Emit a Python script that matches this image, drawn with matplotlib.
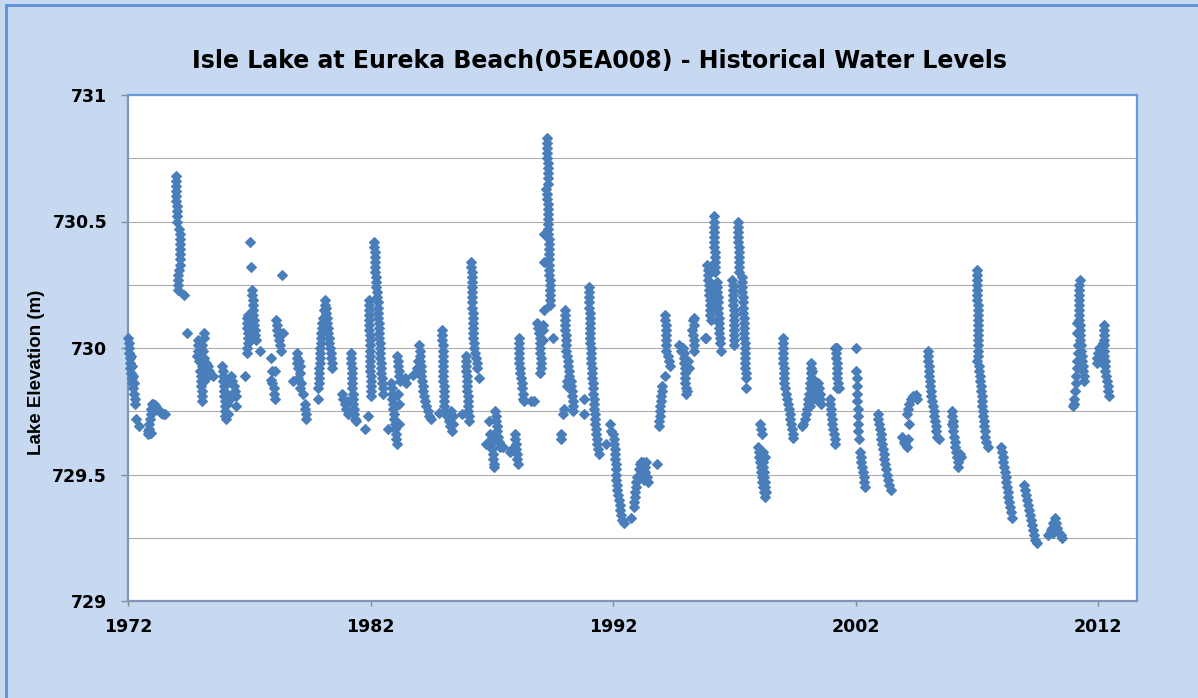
import matplotlib
matplotlib.use('Agg')
import matplotlib.pyplot as plt
from matplotlib.patches import Rectangle
from matplotlib.ticker import MultipleLocator


# water level readings (decimal year, elevation m)
obs_1970s = [
    (1972.02, 730.04), (1972.03, 730.02), (1972.04, 730.00), (1972.05, 729.98), (1972.07, 729.96),
    (1972.08, 729.94), (1972.10, 729.92), (1972.12, 729.90), (1972.15, 729.88), (1972.18, 729.86),
    (1972.21, 729.84), (1972.24, 729.82), (1972.27, 729.80), (1972.29, 729.78), (1972.12, 729.97),
    (1972.16, 729.93), (1972.20, 729.89), (1972.24, 729.86), (1972.32, 729.72), (1972.45, 729.69),
    (1972.84, 729.66), (1972.86, 729.68), (1972.88, 729.70), (1972.90, 729.72), (1972.93, 729.74),
    (1972.96, 729.76), (1973.00, 729.78), (1972.82, 729.67), (1972.90, 729.665), (1972.96, 729.665),
    (1973.05, 729.78), (1973.12, 729.775), (1973.18, 729.76), (1973.24, 729.755), (1973.30, 729.75),
    (1973.38, 729.745), (1973.46, 729.74), (1973.52, 729.74),
    (1973.97, 730.68), (1973.97, 730.66), (1973.98, 730.64), (1973.98, 730.62), (1973.99, 730.60),
    (1973.99, 730.58), (1974.00, 730.56), (1974.00, 730.54), (1974.01, 730.52), (1974.00, 730.50),
    (1974.12, 730.47), (1974.13, 730.45), (1974.14, 730.43), (1974.15, 730.41), (1974.15, 730.39),
    (1974.16, 730.37), (1974.16, 730.35), (1974.16, 730.33), (1974.10, 730.31), (1974.08, 730.29),
    (1974.06, 730.27), (1974.07, 730.25), (1974.08, 730.23), (1974.32, 730.21), (1974.44, 730.06),
    (1975.14, 730.06), (1975.12, 730.04), (1974.88, 730.03), (1974.90, 730.01), (1975.05, 730.01),
    (1974.88, 729.99), (1975.10, 729.99), (1974.85, 729.97), (1975.00, 729.97), (1975.15, 729.96),
    (1974.92, 729.95), (1975.20, 729.94), (1975.05, 729.93), (1975.30, 729.93), (1974.95, 729.91),
    (1975.22, 729.91), (1975.35, 729.91), (1975.00, 729.89), (1975.28, 729.89), (1975.49, 729.89),
    (1975.02, 729.87), (1975.15, 729.87), (1975.03, 729.85), (1975.04, 729.83), (1975.05, 729.81),
    (1975.06, 729.79),
    (1975.88, 729.93), (1975.90, 729.91), (1975.92, 729.89), (1975.93, 729.87), (1975.95, 729.85),
    (1975.96, 729.83), (1975.97, 729.81), (1975.98, 729.79), (1975.99, 729.77), (1976.00, 729.75),
    (1976.01, 729.73), (1976.02, 729.72), (1976.08, 729.78), (1976.10, 729.82), (1976.08, 729.86),
    (1976.12, 729.74), (1976.25, 729.89), (1976.30, 729.87), (1976.35, 729.85), (1976.40, 729.83),
    (1976.45, 729.81), (1976.45, 729.77), (1976.22, 729.80), (1976.82, 729.89),
    (1977.05, 730.42), (1977.09, 730.32), (1977.12, 730.23), (1977.13, 730.21), (1977.14, 730.19),
    (1977.15, 730.17), (1977.16, 730.15), (1977.17, 730.13), (1977.19, 730.11), (1977.20, 730.09),
    (1977.22, 730.07), (1977.24, 730.05), (1977.26, 730.03), (1977.44, 729.99), (1976.96, 730.13),
    (1976.90, 730.12), (1976.92, 730.10), (1976.92, 730.08), (1976.93, 730.06), (1976.94, 730.04),
    (1976.93, 730.02), (1976.92, 730.00), (1976.92, 729.98),
    (1978.33, 730.29), (1978.12, 730.11), (1978.14, 730.09), (1978.16, 730.07), (1978.18, 730.05),
    (1978.22, 730.03), (1978.26, 730.01), (1978.30, 729.99), (1978.38, 730.06), (1977.89, 729.96),
    (1977.92, 729.91), (1978.05, 729.91), (1977.90, 729.875), (1977.95, 729.86), (1978.00, 729.84),
    (1978.02, 729.82), (1978.05, 729.80),
    (1978.81, 729.87), (1978.95, 729.98), (1978.97, 729.96), (1978.95, 729.94), (1979.00, 729.92),
    (1979.05, 729.95), (1979.08, 729.93), (1979.10, 729.90), (1979.02, 729.88), (1979.15, 729.86),
    (1979.10, 729.84), (1979.20, 729.82), (1979.28, 729.78), (1979.30, 729.76), (1979.32, 729.74),
    (1979.34, 729.72), (1979.82, 729.80),
]

obs_1980s = [
    (1979.85, 729.84), (1979.86, 729.86), (1979.87, 729.88), (1979.88, 729.90), (1979.89, 729.92),
    (1979.90, 729.94), (1979.91, 729.96), (1979.92, 729.98), (1979.93, 730.00), (1979.95, 730.02),
    (1979.96, 730.04), (1979.97, 730.06), (1979.98, 730.08), (1980.00, 730.10), (1980.02, 730.12),
    (1980.10, 730.15), (1980.12, 730.17), (1980.13, 730.19), (1980.16, 730.16), (1980.18, 730.14),
    (1980.20, 730.12), (1980.22, 730.10), (1980.24, 730.08), (1980.26, 730.06), (1980.28, 730.04),
    (1980.30, 730.02), (1980.33, 730.00), (1980.36, 729.98), (1980.38, 729.96), (1980.40, 729.94),
    (1980.43, 729.92),
    (1981.20, 729.98), (1981.20, 729.96), (1981.21, 729.94), (1981.22, 729.92), (1981.22, 729.90),
    (1981.23, 729.88), (1981.24, 729.86), (1981.25, 729.84), (1981.26, 729.82), (1981.27, 729.80),
    (1981.28, 729.78), (1981.30, 729.76), (1981.32, 729.74), (1981.35, 729.72), (1981.42, 729.71),
    (1980.82, 729.82), (1980.88, 729.80), (1980.95, 729.78), (1981.00, 729.76), (1981.05, 729.74),
    (1981.08, 729.79), (1981.77, 729.68), (1981.90, 729.73),
    (1982.15, 730.42), (1982.16, 730.40), (1982.17, 730.38), (1982.18, 730.36), (1982.18, 730.34),
    (1982.19, 730.32), (1982.20, 730.30), (1982.21, 730.28), (1982.22, 730.26), (1982.24, 730.24),
    (1982.26, 730.22), (1982.28, 730.20), (1982.29, 730.18), (1982.30, 730.16), (1982.31, 730.14),
    (1982.32, 730.12), (1982.33, 730.10), (1982.34, 730.08), (1982.35, 730.06), (1982.36, 730.04),
    (1982.38, 730.02), (1982.39, 730.00), (1982.40, 729.98), (1982.41, 729.96), (1982.42, 729.94),
    (1982.44, 729.92), (1982.45, 729.90), (1982.46, 729.88), (1982.48, 729.86), (1982.50, 729.84),
    (1982.52, 729.82),
    (1981.92, 730.19), (1981.93, 730.17), (1981.93, 730.15), (1981.94, 730.13), (1981.94, 730.11),
    (1981.95, 730.09), (1981.95, 730.07), (1981.96, 730.05), (1981.96, 730.03), (1981.97, 730.01),
    (1981.97, 729.99), (1981.98, 729.97), (1981.98, 729.95), (1981.99, 729.93), (1981.99, 729.91),
    (1982.00, 729.89), (1982.00, 729.87), (1982.01, 729.85), (1982.01, 729.83), (1982.02, 729.81),
    (1983.10, 729.97), (1983.12, 729.95), (1983.14, 729.93), (1983.16, 729.91), (1983.18, 729.89),
    (1983.20, 729.87), (1983.40, 729.88), (1983.48, 729.86), (1982.85, 729.86), (1982.87, 729.84),
    (1982.88, 729.82), (1982.90, 729.80), (1982.92, 729.78), (1982.94, 729.76), (1982.96, 729.74),
    (1982.98, 729.72), (1983.00, 729.70), (1983.02, 729.68), (1983.04, 729.66), (1983.06, 729.64),
    (1983.08, 729.62), (1983.15, 729.82), (1983.18, 729.78), (1983.16, 729.70), (1982.73, 729.68),
    (1983.76, 729.895), (1984.00, 730.01), (1984.02, 729.99), (1984.03, 729.97), (1983.95, 729.95),
    (1984.05, 729.95), (1984.06, 729.93), (1983.98, 729.91), (1984.08, 729.91), (1984.10, 729.89),
    (1984.12, 729.87), (1984.15, 729.85), (1984.18, 729.83), (1984.22, 729.81), (1984.26, 729.79),
    (1984.30, 729.77), (1984.36, 729.75), (1984.42, 729.73), (1984.50, 729.72), (1983.90, 729.92),
    (1984.81, 729.745), (1984.95, 730.07), (1984.96, 730.05), (1984.96, 730.03), (1984.97, 730.01),
    (1984.97, 729.99), (1984.98, 729.97), (1984.98, 729.95), (1984.99, 729.93), (1984.99, 729.91),
    (1985.00, 729.89), (1985.00, 729.87), (1985.01, 729.85), (1985.01, 729.83), (1985.02, 729.81),
    (1985.03, 729.79), (1985.04, 729.77), (1985.08, 729.75), (1985.15, 729.73), (1985.22, 729.71),
    (1985.28, 729.69), (1985.35, 729.67), (1985.30, 729.75), (1985.38, 729.73), (1985.42, 729.70),
    (1985.79, 729.74), (1985.92, 729.97), (1985.93, 729.95), (1985.94, 729.93), (1985.95, 729.91),
    (1985.96, 729.89), (1985.97, 729.87), (1985.98, 729.85), (1985.99, 729.83), (1986.00, 729.81),
    (1986.01, 729.79), (1986.02, 729.77), (1986.03, 729.75), (1986.04, 729.73), (1986.05, 729.71),
    (1986.16, 730.34), (1986.16, 730.32), (1986.17, 730.30), (1986.17, 730.28), (1986.18, 730.26),
    (1986.18, 730.24), (1986.19, 730.22), (1986.19, 730.20), (1986.20, 730.18), (1986.20, 730.16),
    (1986.21, 730.14), (1986.21, 730.12), (1986.22, 730.10), (1986.22, 730.08), (1986.23, 730.06),
    (1986.24, 730.04), (1986.25, 730.02), (1986.28, 730.00), (1986.31, 729.98), (1986.34, 729.96),
    (1986.37, 729.94), (1986.40, 729.92), (1986.48, 729.88),
    (1986.75, 729.62), (1986.89, 729.71), (1986.92, 729.66), (1986.95, 729.64), (1986.97, 729.62),
    (1987.00, 729.60), (1987.03, 729.58), (1987.06, 729.56), (1987.08, 729.54), (1987.10, 729.53),
    (1987.15, 729.75), (1987.17, 729.73), (1987.19, 729.71), (1987.21, 729.69), (1987.23, 729.67),
    (1987.25, 729.65), (1987.28, 729.63), (1987.32, 729.61), (1987.46, 729.61),
    (1987.74, 729.59), (1987.85, 729.60), (1987.95, 729.66), (1987.97, 729.64), (1987.99, 729.62),
    (1988.01, 729.60), (1988.03, 729.58), (1988.05, 729.56), (1988.07, 729.54),
    (1988.10, 730.04), (1988.11, 730.02), (1988.12, 730.00), (1988.14, 729.98), (1988.12, 729.96),
    (1988.14, 729.94), (1988.16, 729.92), (1988.18, 729.90), (1988.20, 729.88), (1988.23, 729.86),
    (1988.25, 729.84), (1988.27, 729.82), (1988.29, 729.80), (1988.32, 729.79), (1988.60, 729.79),
    (1988.72, 729.79),
    (1989.28, 730.83), (1989.28, 730.81), (1989.29, 730.79), (1989.29, 730.77), (1989.29, 730.75),
    (1989.30, 730.73), (1989.30, 730.71), (1989.30, 730.69), (1989.31, 730.67), (1989.31, 730.65),
    (1989.25, 730.63), (1989.27, 730.61), (1989.28, 730.59), (1989.30, 730.57), (1989.32, 730.55),
    (1989.31, 730.53), (1989.32, 730.51), (1989.33, 730.49), (1989.32, 730.47), (1989.33, 730.45),
    (1989.14, 730.45), (1989.35, 730.43), (1989.35, 730.41), (1989.36, 730.39), (1989.36, 730.37),
    (1989.36, 730.35), (1989.14, 730.34), (1989.37, 730.33), (1989.37, 730.31), (1989.37, 730.29),
    (1989.38, 730.27), (1989.38, 730.25), (1989.38, 730.23), (1989.39, 730.21), (1989.39, 730.19),
    (1989.40, 730.17), (1989.15, 730.15), (1989.52, 730.04),
    (1988.88, 730.10), (1988.92, 730.08), (1988.95, 730.06), (1988.97, 730.04), (1988.99, 730.02),
    (1989.00, 730.00), (1989.00, 729.98), (1989.01, 729.96), (1989.02, 729.94), (1989.01, 729.92),
    (1988.99, 729.90), (1989.10, 730.09), (1989.12, 730.07), (1989.10, 730.03),
]

obs_1990s = [
    (1990.00, 730.15), (1990.01, 730.13), (1990.02, 730.11), (1990.02, 730.09), (1990.03, 730.07),
    (1990.04, 730.05), (1990.05, 730.03), (1990.06, 730.01), (1990.07, 729.99), (1990.10, 729.97),
    (1990.13, 729.95), (1990.16, 729.93), (1990.20, 729.91), (1990.17, 729.89), (1990.12, 729.87),
    (1990.08, 729.85), (1990.25, 729.87), (1990.28, 729.85), (1990.30, 729.83), (1990.32, 729.81),
    (1990.34, 729.79), (1990.35, 729.77), (1990.36, 729.75), (1989.94, 729.74), (1989.96, 729.76),
    (1989.84, 729.66), (1989.84, 729.64),
    (1991.00, 730.24), (1991.01, 730.22), (1991.01, 730.20), (1991.02, 730.18), (1991.02, 730.16),
    (1991.03, 730.14), (1991.03, 730.12), (1991.04, 730.10), (1991.05, 730.08), (1991.05, 730.06),
    (1991.06, 730.04), (1991.06, 730.02), (1991.07, 730.00), (1991.08, 729.98), (1991.08, 729.96),
    (1991.10, 729.94), (1991.12, 729.92), (1991.14, 729.90), (1991.15, 729.88), (1991.16, 729.86),
    (1991.18, 729.84), (1991.19, 729.82), (1991.20, 729.80), (1991.22, 729.78), (1991.23, 729.76),
    (1991.24, 729.74), (1991.26, 729.72), (1991.27, 729.70), (1991.29, 729.68), (1991.31, 729.66),
    (1991.33, 729.64), (1991.35, 729.62), (1991.38, 729.60), (1991.42, 729.58), (1991.72, 729.62),
    (1991.86, 729.70), (1991.90, 729.67), (1990.80, 729.80), (1990.80, 729.74),
    (1992.00, 729.66), (1992.02, 729.64), (1992.04, 729.62), (1992.06, 729.60), (1992.07, 729.58),
    (1992.08, 729.56), (1992.10, 729.54), (1992.11, 729.52), (1992.12, 729.50), (1992.14, 729.48),
    (1992.15, 729.46), (1992.18, 729.44), (1992.21, 729.42), (1992.24, 729.40), (1992.27, 729.38),
    (1992.30, 729.36), (1992.34, 729.34), (1992.38, 729.32), (1992.45, 729.31), (1992.75, 729.33),
    (1992.85, 729.37), (1992.87, 729.39), (1992.89, 729.41), (1992.91, 729.43), (1992.93, 729.45),
    (1992.95, 729.47), (1992.98, 729.49), (1993.05, 729.50), (1993.08, 729.52), (1993.10, 729.54),
    (1993.15, 729.55), (1993.25, 729.55), (1993.35, 729.55), (1993.30, 729.53), (1993.32, 729.51),
    (1993.40, 729.49), (1993.45, 729.47), (1993.28, 729.48), (1993.81, 729.54),
    (1993.90, 729.69), (1993.91, 729.71), (1993.92, 729.73), (1993.93, 729.75), (1993.95, 729.77),
    (1993.97, 729.79), (1993.99, 729.81), (1994.00, 729.83), (1994.03, 729.85), (1994.13, 729.89),
    (1994.15, 730.13), (1994.16, 730.11), (1994.17, 730.09), (1994.17, 730.07), (1994.18, 730.05),
    (1994.18, 730.03), (1994.19, 730.01), (1994.20, 729.99), (1994.25, 729.97), (1994.30, 729.95),
    (1994.35, 729.93),
    (1994.72, 730.01), (1994.78, 729.99), (1994.90, 730.00), (1994.92, 729.98), (1994.93, 729.96),
    (1994.94, 729.94), (1994.95, 729.92), (1994.96, 729.90), (1994.97, 729.88), (1994.98, 729.86),
    (1994.99, 729.84), (1995.00, 729.82), (1995.05, 729.83), (1995.25, 730.07), (1995.28, 730.11),
    (1995.32, 730.12), (1995.33, 730.09), (1995.30, 730.05), (1995.32, 730.03), (1995.34, 730.01),
    (1995.35, 729.99), (1995.77, 730.04), (1995.10, 729.95), (1995.15, 729.92),
    (1996.16, 730.52), (1996.15, 730.50), (1996.16, 730.48), (1996.17, 730.46), (1996.17, 730.44),
    (1996.18, 730.42), (1996.18, 730.40), (1996.19, 730.38), (1996.19, 730.36), (1996.20, 730.34),
    (1996.21, 730.32), (1996.22, 730.30), (1995.88, 730.33), (1995.90, 730.31), (1995.92, 730.29),
    (1995.93, 730.27), (1995.95, 730.25), (1995.96, 730.23), (1995.97, 730.21), (1995.98, 730.19),
    (1995.99, 730.17), (1996.00, 730.15), (1996.01, 730.13), (1996.02, 730.11), (1996.28, 730.26),
    (1996.29, 730.24), (1996.30, 730.22), (1996.31, 730.20), (1996.32, 730.18), (1996.33, 730.16),
    (1996.34, 730.14), (1996.35, 730.12), (1996.36, 730.10), (1996.37, 730.08), (1996.38, 730.06),
    (1996.39, 730.04), (1996.40, 730.02), (1996.46, 729.99), (1996.10, 730.22), (1996.08, 730.18),
    (1995.85, 730.04),
    (1997.15, 730.50), (1997.16, 730.48), (1997.16, 730.46), (1997.17, 730.44), (1997.17, 730.42),
    (1997.18, 730.40), (1997.18, 730.38), (1997.19, 730.36), (1997.19, 730.34), (1997.20, 730.32),
    (1997.21, 730.30), (1996.92, 730.27), (1996.93, 730.25), (1996.94, 730.23), (1996.95, 730.21),
    (1996.96, 730.19), (1996.96, 730.17), (1996.97, 730.15), (1996.97, 730.13), (1996.98, 730.11),
    (1996.98, 730.09), (1996.99, 730.07), (1996.99, 730.05), (1997.00, 730.03), (1997.00, 730.01),
    (1997.30, 730.28), (1997.31, 730.26), (1997.32, 730.24), (1997.33, 730.22), (1997.34, 730.20),
    (1997.35, 730.18), (1997.36, 730.16), (1997.37, 730.14), (1997.38, 730.12), (1997.39, 730.10),
    (1997.40, 730.08), (1997.40, 730.06), (1997.41, 730.04), (1997.42, 730.02), (1997.42, 730.00),
    (1997.43, 729.98), (1997.44, 729.96), (1997.44, 729.94), (1997.45, 729.92), (1997.46, 729.90),
    (1997.47, 729.88), (1997.49, 729.84),
    (1998.05, 729.70), (1998.10, 729.68), (1998.14, 729.66), (1997.97, 729.61), (1998.00, 729.59),
    (1998.10, 729.59), (1998.20, 729.59), (1998.02, 729.57), (1998.15, 729.57), (1998.25, 729.57),
    (1998.05, 729.55), (1998.18, 729.55), (1998.08, 729.53), (1998.20, 729.53), (1998.10, 729.51),
    (1998.22, 729.51), (1998.12, 729.49), (1998.24, 729.49), (1998.15, 729.47), (1998.26, 729.47),
    (1998.18, 729.45), (1998.28, 729.45), (1998.22, 729.43), (1998.30, 729.43), (1998.28, 729.41),
    (1999.00, 730.04), (1999.00, 730.02), (1999.01, 730.00), (1999.01, 729.98), (1999.02, 729.96),
    (1999.02, 729.94), (1999.03, 729.92), (1999.04, 729.90), (1999.05, 729.88), (1999.06, 729.86),
    (1999.08, 729.84), (1999.12, 729.82), (1999.18, 729.80), (1999.22, 729.78), (1999.25, 729.76),
    (1999.28, 729.74), (1999.31, 729.72), (1999.34, 729.70), (1999.37, 729.68), (1999.40, 729.66),
    (1999.43, 729.645), (1999.80, 729.69),
]

obs_2000s = [
    (1999.85, 729.70), (1999.90, 729.72), (1999.95, 729.74), (1999.98, 729.76), (2000.02, 729.78),
    (2000.05, 729.80), (2000.08, 729.82), (2000.10, 729.84), (2000.12, 729.86), (2000.14, 729.88),
    (2000.15, 729.90), (2000.16, 729.92), (2000.17, 729.94), (2000.20, 729.91), (2000.22, 729.88),
    (2000.25, 729.85), (2000.30, 729.82), (2000.35, 729.80), (2000.45, 729.86), (2000.50, 729.84),
    (2000.52, 729.82), (2000.55, 729.80), (2000.57, 729.78), (2000.12, 729.77), (2000.15, 729.79),
    (2000.93, 729.80), (2000.95, 729.78), (2000.97, 729.76), (2000.99, 729.74), (2001.01, 729.72),
    (2001.04, 729.70), (2001.07, 729.68), (2001.10, 729.66), (2001.13, 729.64), (2001.16, 729.62),
    (2001.15, 730.00), (2001.18, 730.00), (2001.22, 730.00), (2001.20, 729.98), (2001.21, 729.96),
    (2001.22, 729.94), (2001.23, 729.92), (2001.24, 729.90), (2001.25, 729.88), (2001.26, 729.86),
    (2001.30, 729.84), (2001.22, 729.84),
    (2002.02, 730.00), (2002.03, 729.91), (2002.04, 729.88), (2002.05, 729.85), (2002.06, 729.82),
    (2002.07, 729.79), (2002.08, 729.76), (2002.09, 729.73), (2002.10, 729.70), (2002.11, 729.67),
    (2002.12, 729.64), (2002.18, 729.59), (2002.21, 729.57), (2002.24, 729.55), (2002.27, 729.53),
    (2002.30, 729.51), (2002.33, 729.49), (2002.36, 729.47), (2002.40, 729.45),
    (2002.92, 729.74), (2002.94, 729.72), (2002.97, 729.70), (2003.00, 729.68), (2003.03, 729.66),
    (2003.06, 729.64), (2003.09, 729.62), (2003.12, 729.60), (2003.15, 729.58), (2003.18, 729.56),
    (2003.22, 729.54), (2003.26, 729.52), (2003.30, 729.50), (2003.34, 729.48), (2003.38, 729.46),
    (2003.45, 729.44),
    (2003.92, 729.65), (2003.98, 729.63), (2004.05, 729.62), (2004.10, 729.61), (2004.15, 729.64),
    (2004.19, 729.70), (2004.12, 729.74), (2004.15, 729.76), (2004.20, 729.78), (2004.28, 729.80),
    (2004.38, 729.81), (2004.48, 729.815), (2004.55, 729.80),
    (2004.98, 729.99), (2004.99, 729.97), (2005.00, 729.95), (2005.01, 729.93), (2005.02, 729.91),
    (2005.04, 729.89), (2005.06, 729.87), (2005.08, 729.85), (2005.10, 729.83), (2005.12, 729.81),
    (2005.15, 729.79), (2005.18, 729.77), (2005.21, 729.75), (2005.24, 729.73), (2005.27, 729.71),
    (2005.30, 729.69), (2005.33, 729.67), (2005.37, 729.65), (2005.45, 729.64),
    (2005.98, 729.75), (2005.99, 729.73), (2006.00, 729.71), (2006.01, 729.69), (2006.03, 729.67),
    (2006.06, 729.65), (2006.08, 729.63), (2006.10, 729.61), (2006.13, 729.59), (2006.16, 729.57),
    (2006.20, 729.55), (2006.24, 729.53), (2006.30, 729.58), (2006.34, 729.57), (2005.96, 729.70),
    (2007.01, 730.31), (2007.01, 730.29), (2007.01, 730.27), (2007.02, 730.25), (2007.02, 730.23),
    (2007.02, 730.21), (2007.02, 730.19), (2007.03, 730.17), (2007.03, 730.15), (2007.03, 730.13),
    (2007.03, 730.11), (2007.04, 730.09), (2007.04, 730.07), (2007.04, 730.05), (2007.05, 730.03),
    (2007.05, 730.01), (2007.05, 729.99), (2007.06, 729.97), (2006.99, 729.95), (2007.08, 729.93),
    (2007.10, 729.91), (2007.12, 729.89), (2007.13, 729.87), (2007.15, 729.85), (2007.17, 729.83),
    (2007.19, 729.81), (2007.21, 729.79), (2007.23, 729.77), (2007.25, 729.75), (2007.27, 729.73),
    (2007.29, 729.71), (2007.31, 729.69), (2007.33, 729.67), (2007.35, 729.65), (2007.38, 729.63),
    (2007.45, 729.61),
    (2008.00, 729.61), (2008.03, 729.59), (2008.06, 729.57), (2008.09, 729.55), (2008.12, 729.53),
    (2008.15, 729.51), (2008.18, 729.49), (2008.21, 729.47), (2008.24, 729.45), (2008.27, 729.43),
    (2008.30, 729.41), (2008.33, 729.39), (2008.36, 729.37), (2008.40, 729.35), (2008.45, 729.33),
    (2008.96, 729.46), (2008.99, 729.44), (2009.03, 729.42), (2009.06, 729.40), (2009.10, 729.38),
    (2009.14, 729.36), (2009.18, 729.34), (2009.22, 729.32), (2009.26, 729.30), (2009.30, 729.28),
    (2009.35, 729.26), (2009.40, 729.24), (2009.48, 729.23),
    (2009.95, 729.26), (2010.00, 729.27), (2010.05, 729.28), (2010.10, 729.29), (2010.15, 729.31),
    (2010.22, 729.33), (2010.28, 729.31), (2010.32, 729.29), (2010.38, 729.27), (2010.45, 729.26),
    (2010.52, 729.25), (2010.25, 729.28), (2010.15, 729.27),
]

obs_2010s = [
    (2011.23, 730.27), (2011.22, 730.25), (2011.22, 730.23), (2011.21, 730.21), (2011.21, 730.19),
    (2011.20, 730.17), (2011.20, 730.15), (2011.21, 730.13), (2011.22, 730.11), (2011.23, 730.09),
    (2011.24, 730.07), (2011.25, 730.05), (2011.26, 730.03), (2011.28, 730.01), (2011.30, 729.99),
    (2011.32, 729.97), (2011.34, 729.95), (2011.36, 729.93), (2011.38, 729.91), (2011.40, 729.89),
    (2011.42, 729.87), (2011.18, 730.01), (2011.16, 729.98), (2011.14, 729.95), (2011.12, 729.92),
    (2011.10, 729.89), (2011.08, 729.86), (2011.06, 729.83), (2011.02, 729.80), (2011.00, 729.78),
    (2010.98, 729.77), (2011.14, 730.10), (2011.12, 730.06),
    (2012.26, 730.09), (2012.25, 730.07), (2012.25, 730.05), (2012.24, 730.03), (2012.24, 730.01),
    (2012.25, 729.99), (2012.26, 729.97), (2012.27, 729.95), (2012.28, 729.93), (2012.30, 729.91),
    (2012.33, 729.89), (2012.36, 729.87), (2012.39, 729.85), (2012.42, 729.83), (2012.46, 729.81),
    (2011.94, 729.94), (2011.96, 729.96), (2012.00, 729.98), (2012.05, 730.00), (2012.10, 729.99),
    (2012.02, 729.95), (2012.18, 730.02),
]

year_ticks = [1972, 1982, 1992, 2002, 2012]
level_ticks = [729, 729.5, 730, 730.5, 731]
level_labels = ['729', '729.5', '730', '730.5', '731']

all_obs = obs_1970s + obs_1980s + obs_1990s + obs_2000s + obs_2010s
years = [p[0] for p in all_obs]
levels = [p[1] for p in all_obs]

bg = '#C6D9F1'
blue = '#4A7EBB'

fig = plt.figure(figsize=(11.98, 6.98), dpi=100, facecolor=bg)
# outer chart border (only left/top edges visible in the crop)
fig.patches.append(Rectangle((6 / 1198, -0.05), 1.2, 1.05 - 5 / 698, transform=fig.transFigure,
                             facecolor='none', edgecolor='#5B8FD6', linewidth=2, zorder=0))

ax = fig.add_axes([128 / 1198, 1 - 601 / 698, (1137 - 128) / 1198, (601 - 95) / 698])
ax.set_facecolor('white')

ax.plot(years, levels, linestyle='none', marker='D', markersize=4.6,
        color=blue, markeredgecolor=blue, markeredgewidth=0.8, clip_on=False, zorder=3)

ax.set_xlim(1972, 2013.6)
ax.set_ylim(729, 731)
ax.set_xticks(year_ticks)
ax.set_xticklabels([str(y) for y in year_ticks])
ax.set_yticks(level_ticks)
ax.set_yticklabels(level_labels)
ax.yaxis.set_minor_locator(MultipleLocator(0.25))

ax.grid(axis='y', which='both', color='#ADADAD', linewidth=0.8, zorder=1)
ax.set_axisbelow(True)

ax.tick_params(axis='y', which='major', direction='out', length=5, width=1, color='#8C8C8C',
               pad=10, labelsize=12.5)
ax.tick_params(axis='y', which='minor', length=0)
ax.tick_params(axis='x', direction='out', length=3.5, width=1, color='#8C8C8C',
               pad=9, labelsize=12.5)
for lab in ax.get_xticklabels() + ax.get_yticklabels():
    lab.set_fontweight('bold')
    lab.set_fontfamily('DejaVu Sans')

for side in ['left', 'bottom']:
    ax.spines[side].set_color('#7F96B8')
    ax.spines[side].set_linewidth(1.6)
for side in ['top', 'right']:
    ax.spines[side].set_color('#6A9AD8')
    ax.spines[side].set_linewidth(1.6)

fig.text(600 / 1198, 1 - 61 / 698, 'Isle Lake at Eureka Beach(05EA008) - Historical Water Levels',
         ha='center', va='center', fontsize=17, fontweight='bold', family='DejaVu Sans')
fig.text(37 / 1198, 1 - 372 / 698, 'Lake Elevation (m)', rotation=90, ha='center', va='center',
         fontsize=13.5, fontweight='bold', family=['Liberation Sans Narrow', 'Liberation Sans'])

plt.savefig('out.png', dpi=100, facecolor=bg)
